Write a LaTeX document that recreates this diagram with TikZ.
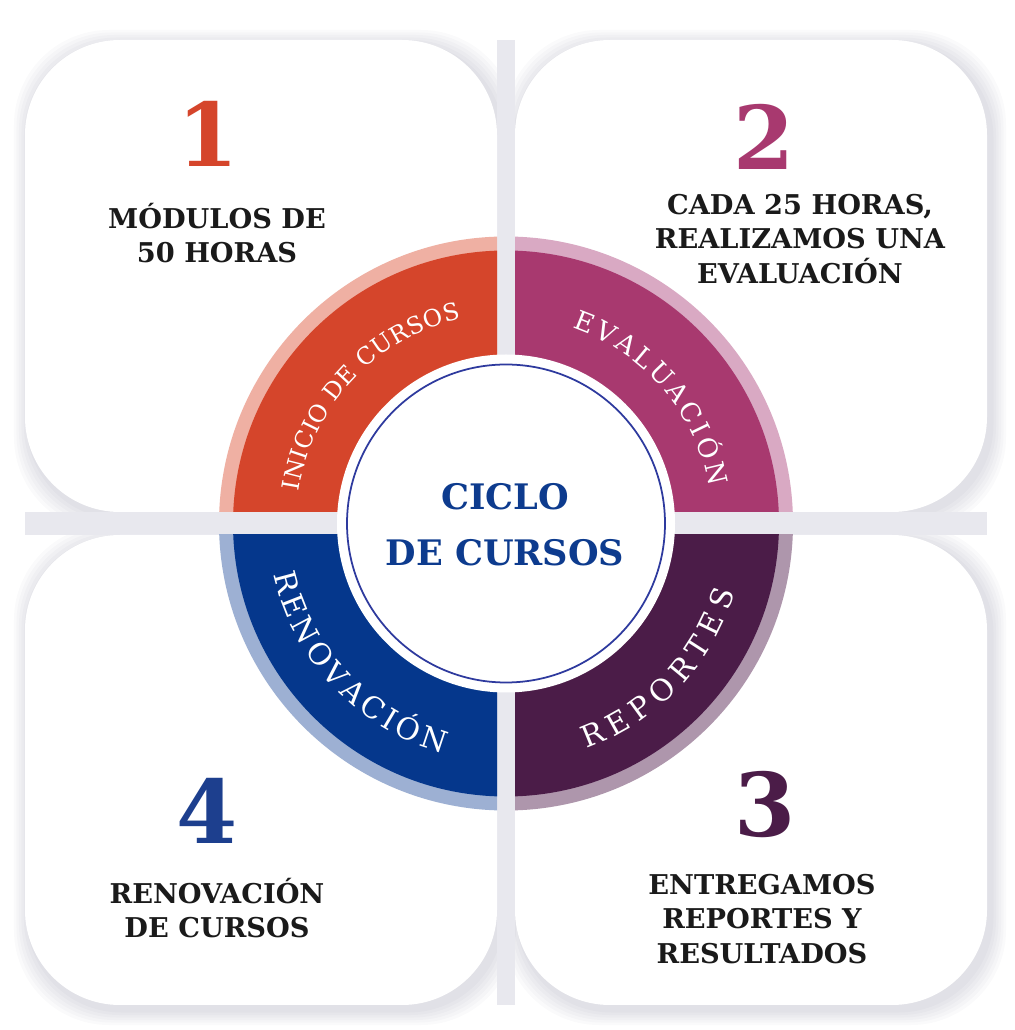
\documentclass[tikz,border=0pt]{standalone}
\usepackage{fontspec}
\setmainfont{DejaVu Serif}
\usetikzlibrary{calc,decorations.text}

\definecolor{rojo}{HTML}{D5452B}
\definecolor{rojoclaro}{HTML}{EFB0A3}
\definecolor{magenta}{HTML}{A8396F}
\definecolor{magentaclaro}{HTML}{D9A9C3}
\definecolor{morado}{HTML}{4B1C48}
\definecolor{moradoclaro}{HTML}{AE96AC}
\definecolor{azul}{HTML}{05378C}
\definecolor{azulclaro}{HTML}{9DB0D3}
\definecolor{azulnum}{HTML}{1D3F8E}
\definecolor{azultexto}{HTML}{0D3B8E}
\definecolor{azulcirculo}{HTML}{2E3A9E}
\definecolor{gris}{HTML}{E8E8EE}
\definecolor{negro}{HTML}{1A1A1A}

\begin{document}
\begin{tikzpicture}[
  caja/.style={align=center, text=negro, font=\bfseries\fontsize{15.5}{19.4}\selectfont},
  numero/.style={font=\bfseries\fontsize{50}{60}\selectfont},
  anillo/.style={decorate, decoration={text along path, text align=fit to path, text color=white, text={#1}}}
]
\useasboundingbox (0,0) rectangle (20.3,20.6);
\fill[white] (0,0) rectangle (20.3,20.6);
\coordinate (c) at (10.12,10.13);

% sombras
\foreach \xa/\ya/\xb/\yb in {0.5/10.36/9.94/19.8, 10.3/10.36/19.74/19.8, 10.3/0.5/19.74/9.9, 0.5/0.5/9.94/9.9}
  \foreach \s in {0.05,0.1,...,0.35}
    \fill[black!70!blue, opacity=0.02, rounded corners=1.9cm]
      (\xa-\s+0.08,\ya-\s-0.1) rectangle (\xb+\s+0.08,\yb+\s-0.1);

% separaciones
\fill[gris] (9.94,0.5) rectangle (10.3,19.8);
\fill[gris] (0.5,9.9) rectangle (19.74,10.36);

% cajas y anillo
\foreach \xa/\ya/\xb/\yb/\tonoclaro/\tono in {0.5/10.36/9.94/19.8/rojoclaro/rojo,
    10.3/10.36/19.74/19.8/magentaclaro/magenta,
    10.3/0.5/19.74/9.9/moradoclaro/morado,
    0.5/0.5/9.94/9.9/azulclaro/azul} {
  \fill[white, rounded corners=1.9cm] (\xa,\ya) rectangle (\xb,\yb);
  \begin{scope}
    \clip (\xa,\ya) rectangle (\xb,\yb);
    \fill[\tonoclaro] (c) circle (5.74);
    \fill[\tono] (c) circle (5.46);
  \end{scope}
}

\fill[white] (c) circle (3.38);
\draw[azulcirculo, line width=1pt] (c) circle (3.18);

% textos del anillo
\path[anillo={|\fontsize{13.5}{15}\selectfont|INICIO DE CURSOS}]
  ($(c)+(171.2:4.19)$) arc[start angle=171.2, end angle=102.3, radius=4.19];
\path[anillo={|\fontsize{15}{17}\selectfont|EVALUACIÓN}]
  ($(c)+(71.2:4.13)$) arc[start angle=71.2, end angle=10.2, radius=4.13];
\path[anillo={|\fontsize{17}{19}\selectfont|REPORTES}]
  ($(c)+(-70.4:4.78)$) arc[start angle=-70.4, end angle=-16.8, radius=4.78];
\path[anillo={|\fontsize{17}{19}\selectfont|RENOVACIÓN}]
  ($(c)+(192.3:4.76)$) arc[start angle=192.3, end angle=254.8, radius=4.76];

\node[align=center, text=azultexto, font=\bfseries\fontsize{20}{32}\selectfont] (ciclo) at (10.1,10.1) {CICLO\\DE CURSOS};

% numeros
\node[numero, text=rojo] (n1) at (4.16,17.92) {1};
\node[numero, text=magenta] (n2) at (15.28,17.86) {2};
\node[numero, text=morado] (n3) at (15.3,4.5) {3};
\node[numero, text=azulnum] (n4) at (4.14,4.38) {4};

% descripciones
\node[caja] (t1) at (4.34,15.93) {MÓDULOS DE\\50 HORAS};
\node[caja] (t2) at (16.0,15.82) {CADA 25 HORAS,\\REALIZAMOS UNA\\EVALUACIÓN};
\node[caja] (t3) at (15.24,2.22) {ENTREGAMOS\\REPORTES Y\\RESULTADOS};
\node[caja] (t4) at (4.34,2.44) {RENOVACIÓN\\DE CURSOS};
\end{tikzpicture}
\end{document}
